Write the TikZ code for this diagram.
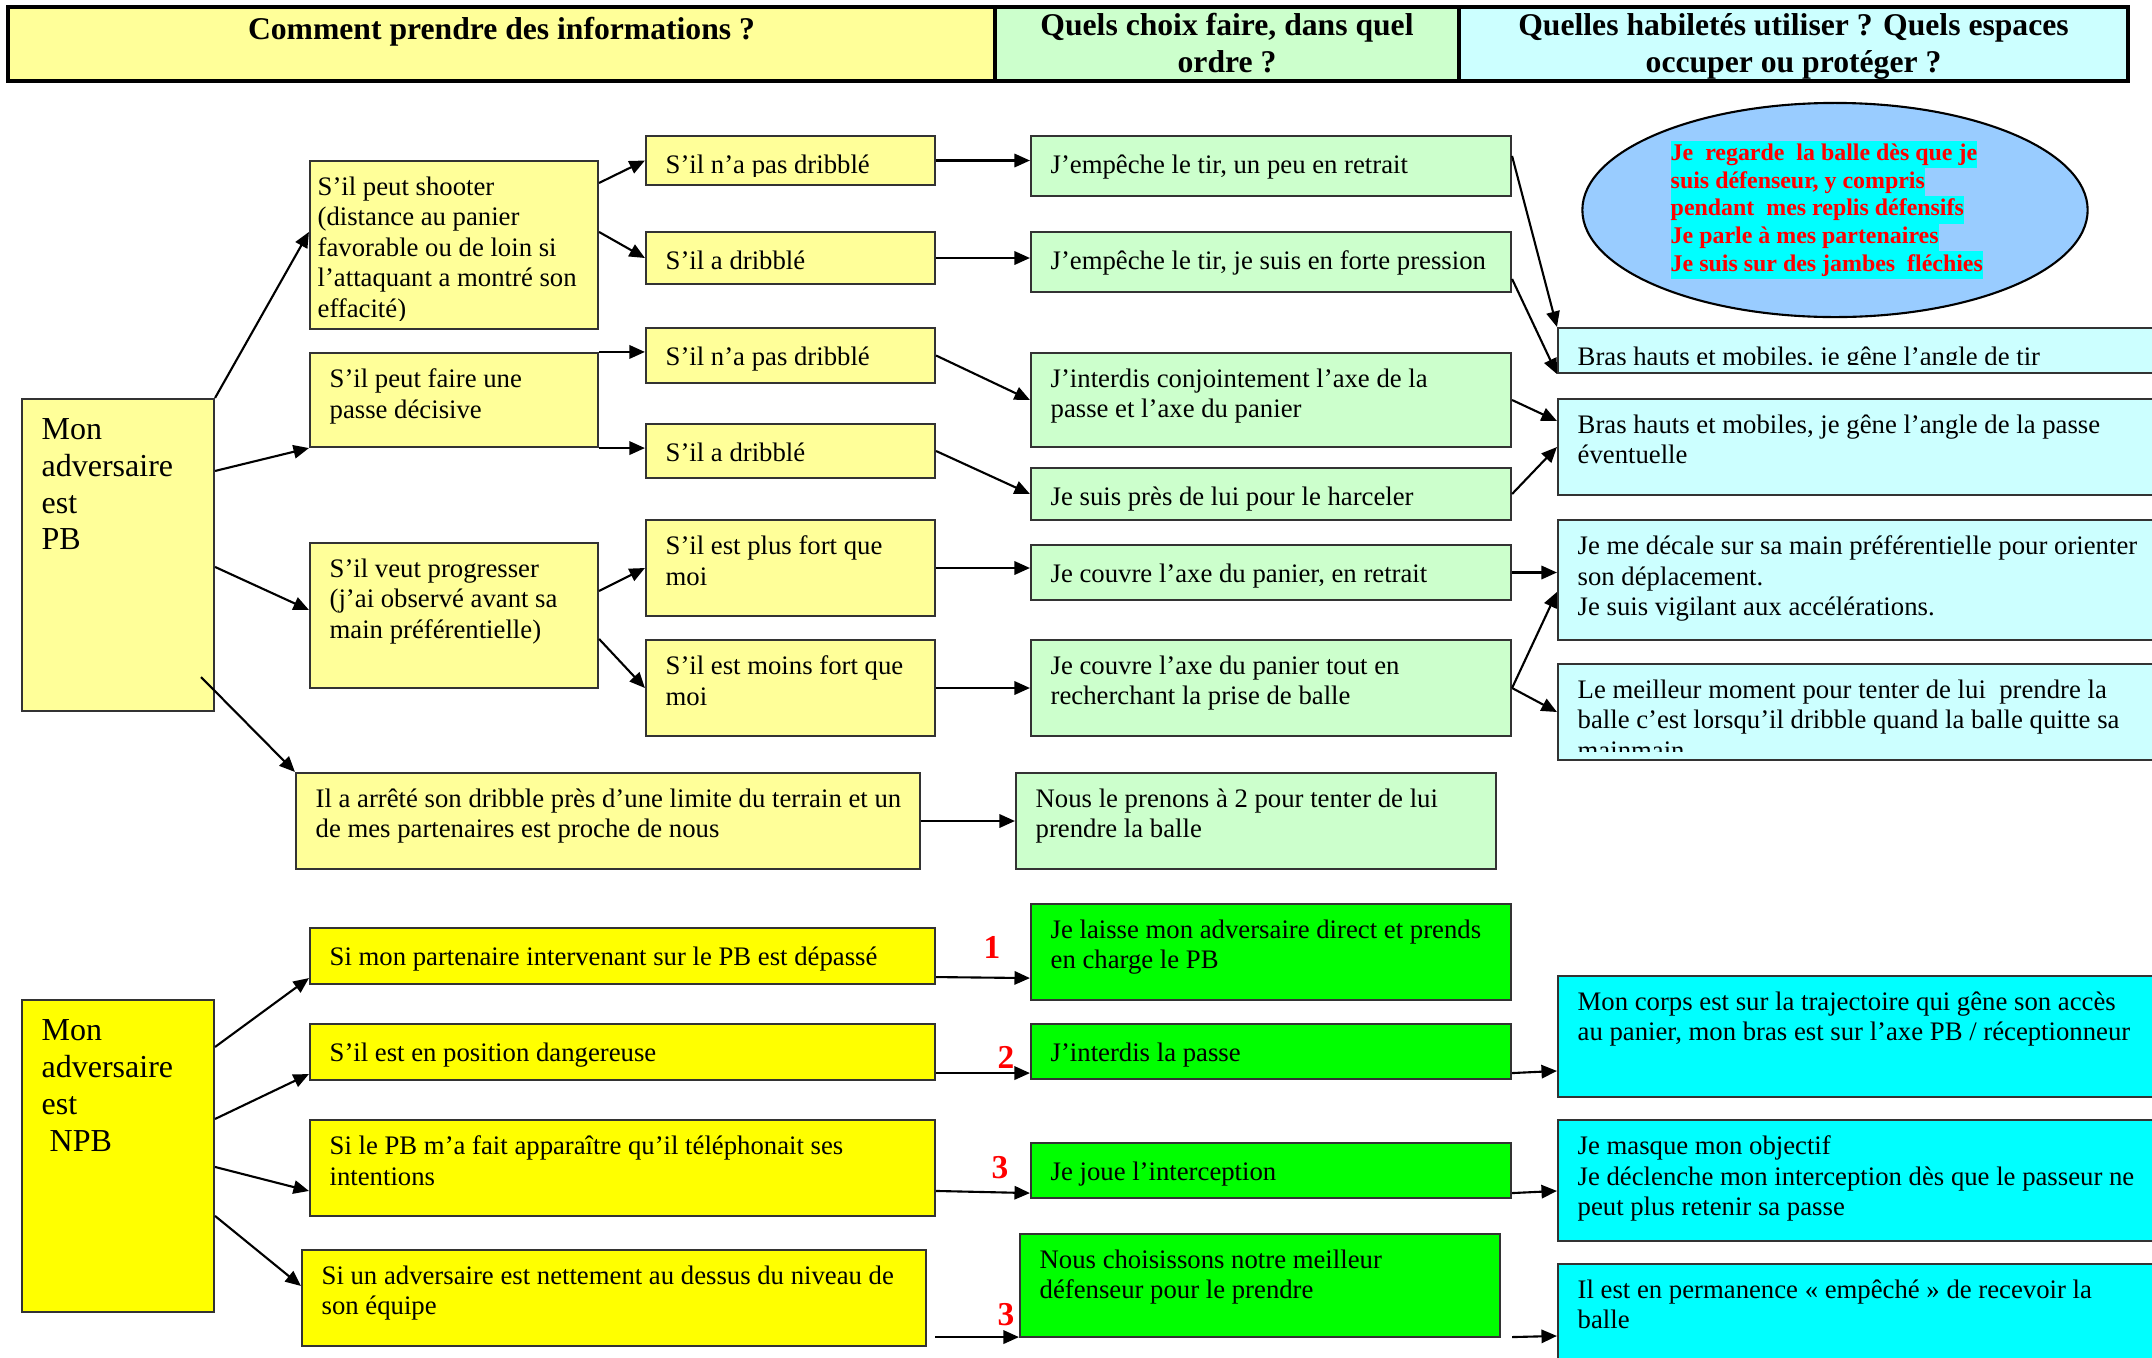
\documentclass[tikz,border=0pt]{standalone}
\usepackage{fontspec}
\setmainfont{Liberation Serif}
\usetikzlibrary{arrows.meta, calc, fit, shapes.geometric}

\definecolor{paleyellow}{HTML}{FFFF99}
\definecolor{palegreen}{HTML}{CCFFCC}
\definecolor{palecyan}{HTML}{CCFFFF}
\definecolor{ovalblue}{HTML}{99CCFF}
\definecolor{vifyellow}{HTML}{FFFF00}
\definecolor{vifgreen}{HTML}{00FF00}
\definecolor{vifcyan}{HTML}{00FFFF}
\definecolor{vifred}{HTML}{FF0000}

\tikzset{
  >={Triangle[length=4.4pt, width=3.8pt]},
  box/.style={draw=black!80, line width=0.6pt, inner sep=0pt},
  info/.style={box, fill=paleyellow},
  choix/.style={box, fill=palegreen},
  espace/.style={box, fill=palecyan},
  infonpb/.style={box, fill=vifyellow},
  choixnpb/.style={box, fill=vifgreen},
  espacenpb/.style={box, fill=vifcyan},
  txt/.style={align=left, inner sep=0pt, execute at begin node=\strut, font=\fontsize{7.6}{8.7}\selectfont},
  big/.style={font=\fontsize{9.1}{10.5}\selectfont},
  head/.style={align=center, inner sep=0pt, execute at begin node=\strut, font=\bfseries\fontsize{9}{10.5}\selectfont},
  oval/.style={ellipse, draw, line width=0.6pt, fill=ovalblue, minimum width=5.05cm, minimum height=2.14cm, inner sep=0pt},
  hl/.style={anchor=north west, fill=vifcyan, text=vifred, inner sep=0pt, text height=0.2cm, text depth=0.076cm, font=\bfseries\fontsize{6.8}{7.9}\selectfont},
  num/.style={text=vifred, inner sep=0pt, font=\bfseries\fontsize{9.5}{11}\selectfont},
  link/.style={->, line width=0.6pt}
}

% box from corner to corner, text set at its top left
\newcommand{\cell}[6][]{%
  \node[#3, fit={#4 #5}] (#2) {};
  \begin{scope}
    \clip (#2.north west) rectangle ([shift={(60,-10)}]#2.south east);
    \node[txt, anchor=north west, #1] at ([shift={(20,16)}]#2.north west) {#6};
  \end{scope}}

\begin{document}
\begin{tikzpicture}[x=0.01cm, y=-0.01cm]
    \useasboundingbox (0,0) rectangle (2152,1357);
    \clip (0,0) rectangle (2152,1357);
    \fill[white] (0,0) rectangle (2152,1357);

    % headers
    \node[info, draw=black, line width=0.9pt, fit={(8,7) (995,81)}] (hinfo) {};
    \node[choix, draw=black, line width=0.9pt, fit={(995,7) (1459,81)}] (hchoix) {};
    \node[espace, draw=black, line width=0.9pt, fit={(1459,7) (2128,81)}] (hespace) {};
    \node[head, anchor=north] (tinfo) at ([yshift=-0.075cm]hinfo.north) {Comment prendre des informations ?};
    \node[head, anchor=north] (tchoix) at ([yshift=-0.075cm]hchoix.north) {Quels choix faire, dans quel\\ordre ?};
    \node[head, anchor=north] (tespace) at ([yshift=-0.075cm]hespace.north) {Quelles habiletés utiliser ? Quels espaces\\occuper ou protéger ?};

    % porteur de balle
    \cell[big, yshift=-0.036cm]{pb}{info}{(22,399)}{(214,711)}{Mon\\adversaire\\est\\PB}
    \cell[xshift=-0.12cm]{shoot}{info}{(310,161)}{(598,329)}{S’il peut shooter\\(distance au panier\\favorable ou de loin si\\l’attaquant a montré son\\effacité)}
    \cell{passe}{info}{(310,353)}{(598,447)}{S’il peut faire une\\passe décisive}
    \cell{progr}{info}{(310,543)}{(598,688)}{S’il veut progresser\\(j’ai observé avant sa\\main préférentielle)}
    \cell{arret}{info}{(296,773)}{(920,869)}{Il a arrêté son dribble près d’une limite du terrain et un\\de mes partenaires est proche de nous}
    \cell{nodrib1}{info}{(646,136)}{(935,185)}{S’il n’a pas dribblé}
    \cell{drib1}{info}{(646,232)}{(935,284)}{S’il a dribblé}
    \cell{nodrib2}{info}{(646,328)}{(935,383)}{S’il n’a pas dribblé}
    \cell{drib2}{info}{(646,424)}{(935,478)}{S’il a dribblé}
    \cell{plusfort}{info}{(646,520)}{(935,616)}{S’il est plus fort que\\moi}
    \cell{moinsfort}{info}{(646,640)}{(935,736)}{S’il est moins fort que\\moi}

    \cell{retrait}{choix}{(1031,136)}{(1511,196)}{J’empêche le tir, un peu en retrait}
    \cell{pression}{choix}{(1031,232)}{(1511,292)}{J’empêche le tir, je suis en forte pression}
    \cell{axes}{choix}{(1031,353)}{(1511,447)}{J’interdis conjointement l’axe de la\\passe et l’axe du panier}
    \cell{harcel}{choix}{(1031,468)}{(1511,520)}{Je suis près de lui pour le harceler}
    \cell{couvre}{choix}{(1031,545)}{(1511,600)}{Je couvre l’axe du panier, en retrait}
    \cell{prise}{choix}{(1031,640)}{(1511,736)}{Je couvre l’axe du panier tout en\\recherchant la prise de balle}
    \cell{adeux}{choix}{(1016,773)}{(1496,869)}{Nous le prenons à 2 pour tenter de lui\\prendre la balle}

    \node[oval] (oval) at (1835,210) {};
    \foreach \ligne [count=\i from 0] in {Je~ regarde~ la balle dès que je, {suis défenseur, y compris}, pendant~ mes replis défensifs, Je parle à mes partenaires, Je suis sur des jambes~ fléchies}
        \node[hl] (ligne\i) at (1670, {140+27.6*\i}) {\ligne};

    \cell{angletir}{espace}{(1558,328)}{(2170,373)}{Bras hauts et mobiles, je gêne l’angle de tir}
    \cell{anglepasse}{espace}{(1558,399)}{(2170,495)}{Bras hauts et mobiles, je gêne l’angle de la passe\\éventuelle}
    \cell{decale}{espace}{(1558,520)}{(2170,640)}{Je me décale sur sa main préférentielle pour orienter\\son déplacement.\\Je suis vigilant aux accélérations.}
    \cell{moment}{espace}{(1558,664)}{(2170,760)}{Le meilleur moment pour tenter de lui~ prendre la\\balle c’est lorsqu’il dribble quand la balle quitte sa\\mainmain}

    % non porteur de balle
    \cell[big, yshift=-0.036cm]{npb}{infonpb}{(22,1000)}{(214,1312)}{Mon\\adversaire\\est\\~NPB}
    \cell{depasse}{infonpb}{(310,928)}{(935,984)}{Si mon partenaire intervenant sur le PB est dépassé}
    \cell{danger}{infonpb}{(310,1024)}{(935,1080)}{S’il est en position dangereuse}
    \cell{telephone}{infonpb}{(310,1120)}{(935,1216)}{Si le PB m’a fait apparaître qu’il téléphonait ses\\intentions}
    \cell{niveau}{infonpb}{(302,1250)}{(926,1346)}{Si un adversaire est nettement au dessus du niveau de\\son équipe}

    \cell{laisse}{choixnpb}{(1031,904)}{(1511,1000)}{Je laisse mon adversaire direct et prends\\en charge le PB}
    \cell{interdit}{choixnpb}{(1031,1024)}{(1511,1079)}{J’interdis la passe}
    \cell{intercep}{choixnpb}{(1031,1143)}{(1511,1198)}{Je joue l’interception}
    \cell{meilleur}{choixnpb}{(1020,1234)}{(1500,1337)}{Nous choisissons notre meilleur\\défenseur pour le prendre}

    \cell{corps}{espacenpb}{(1558,976)}{(2170,1097)}{Mon corps est sur la trajectoire qui gêne son accès\\au panier, mon bras est sur l’axe PB / réceptionneur}
    \cell{masque}{espacenpb}{(1558,1120)}{(2170,1241)}{Je masque mon objectif\\Je déclenche mon interception dès que le passeur ne\\peut plus retenir sa passe}
    \cell{permanence}{espacenpb}{(1558,1264)}{(2170,1400)}{Il est en permanence « empêché » de recevoir la\\balle}

    \node[num] (un) at (992,947) {1};
    \node[num] (deux) at (1006,1057) {2};
    \node[num] (trois) at (1000,1168) {3};
    \node[num] (troisbis) at (1006,1315) {3};

    % connecteurs
    \draw[link] (pb.north east) -- ($(shoot.north west)+(0,72)$);
    \draw[link] ($(pb.north east)+(0,73)$) -- (passe.south west);
    \draw[link] ($(pb.north east)+(0,169)$) -- ($(progr.north west)+(0,68)$);
    \draw[link] ($(pb.south east)+(-14,-35)$) -- (arret.north west);

    \draw[link] ($(shoot.north east)+(0,23)$) -- (nodrib1.west);
    \draw[link] ($(shoot.north east)+(0,72)$) -- (drib1.west);
    \draw[link] (passe.north east) -- (passe.north east -| nodrib2.west);
    \draw[link] (passe.south east) -- (passe.south east -| drib2.west);
    \draw[link] ($(progr.north east)+(0,49)$) -- (plusfort.west);
    \draw[link] ($(progr.north east)+(0,97)$) -- (moinsfort.west);

    \draw[link] (nodrib1.east) -- (nodrib1.east -| retrait.west);
    \draw[link] (drib1.east) -- (drib1.east -| pression.west);
    \draw[link] (nodrib2.east) -- (axes.west);
    \draw[link] (drib2.east) -- (harcel.west);
    \draw[link] (plusfort.east) -- (plusfort.east -| couvre.west);
    \draw[link] (moinsfort.east) -- (prise.west);
    \draw[link] (arret.east) -- (adeux.west);

    \draw[link] ($(retrait.north east)+(0,21)$) -- (angletir.north west);
    \draw[link] ($(pression.north east)+(0,48)$) -- (angletir.south west);
    \draw[link] (axes.east) -- ($(anglepasse.north west)+(0,23)$);
    \draw[link] (harcel.east) -- (anglepasse.west);
    \draw[link] (couvre.east) -- (couvre.east -| decale.west);
    \draw[link] (prise.east) -- ($(decale.north west)+(0,73)$);
    \draw[link] (prise.east) -- (moment.west);

    \draw[link] ($(npb.north east)+(0,48)$) -- ($(depasse.south west)+(0,-7)$);
    \draw[link] ($(npb.north east)+(0,120)$) -- ($(danger.south west)+(0,-7)$);
    \draw[link] ($(npb.north east)+(0,168)$) -- ($(telephone.north west)+(0,72)$);
    \draw[link] ($(npb.north east)+(0,217)$) -- ($(niveau.north west)+(0,37)$);

    \draw[link] ($(depasse.south east)+(0,-8)$) -- ($(laisse.south west)+(0,-23)$);
    \draw[link] ($(danger.south east)+(0,-8)$) -- ($(interdit.south west)+(0,-7)$);
    \draw[link] ($(telephone.north east)+(0,72)$) -- ($(intercep.south west)+(0,-6)$);
    \draw[link] ($(niveau.south east)+(8,-10)$) -- ($(meilleur.south west)+(0,-1)$);

    \draw[link] ($(interdit.south east)+(0,-7)$) -- ($(corps.north west)+(0,96)$);
    \draw[link] ($(intercep.south east)+(0,-6)$) -- ($(masque.north west)+(0,72)$);
    \draw[link] ($(meilleur.south east)+(11,-1)$) -- ($(permanence.north west)+(0,73)$);
\end{tikzpicture}
\end{document}
